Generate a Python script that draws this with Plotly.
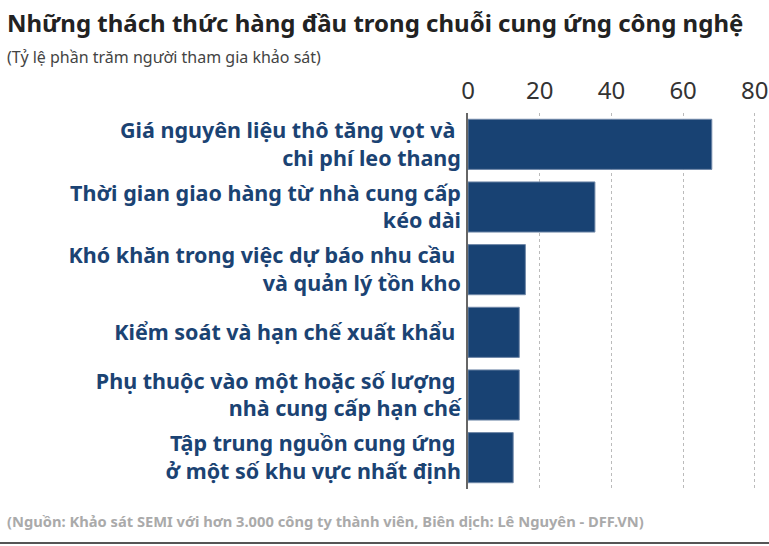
import plotly.graph_objects as go

categories = [
    "Giá nguyên liệu thô tăng vọt và <br>chi phí leo thang",
    "Thời gian giao hàng từ nhà cung cấp<br>kéo dài",
    "Khó khăn trong việc dự báo nhu cầu <br>và quản lý tồn kho",
    "Kiểm soát và hạn chế xuất khẩu ",
    "Phụ thuộc vào một hoặc số lượng <br>nhà cung cấp hạn chế",
    "Tập trung nguồn cung ứng <br>ở một số khu vực nhất định",
]
values = [68, 35.4, 16, 14.3, 14.3, 12.6]
x_ticks = [0, 20, 40, 60, 80]

title = "Những thách thức hàng đầu trong chuỗi cung ứng công nghệ"
subtitle = "(Tỷ lệ phần trăm người tham gia khảo sát)"
footer = "(Nguồn: Khảo sát SEMI với hơn 3.000 công ty thành viên, Biên dịch: Lê Nguyên - DFF.VN)"

W, H = 769, 546
L, R, T, B = 468, 7, 113, 57
pw, ph = W - L - R, H - T - B

def px(x):
    return (x - L) / pw

def py(y):
    return (H - B - y) / ph

FONT = "Noto Sans"
BAR = "#184273"

fig = go.Figure(go.Bar(
    x=values, y=categories, orientation="h",
    marker=dict(color=BAR, line=dict(color="#7088a8", width=1)),
    width=0.8, hoverinfo="skip",
))

fig.update_layout(
    width=W, height=H,
    margin=dict(l=L, r=R, t=T, b=B, autoexpand=False),
    paper_bgcolor="white", plot_bgcolor="white",
    showlegend=False,
    font=dict(family=FONT),
    xaxis=dict(
        side="top", range=[0, 82], tickvals=x_ticks,
        showgrid=True, gridcolor="#bbbbbb", griddash="dot", gridwidth=1,
        zeroline=False, showline=False, ticks="",
        ticklabelstandoff=8, automargin=False,
        tickfont=dict(family=FONT, size=24, color="#333333"),
        fixedrange=True,
    ),
    yaxis=dict(
        categoryorder="array", categoryarray=categories,
        autorange="reversed",
        showgrid=False, zeroline=False,
        showline=True, linecolor="#666666", linewidth=1.5,
        ticks="", ticklabelstandoff=1, automargin=False,
        tickfont=dict(family=FONT, size=21.5, color="#1b4373", weight="bold"),
        fixedrange=True,
    ),
    annotations=[
        dict(text=f"<b>{title}</b>", xref="paper", yref="paper",
             x=px(5), y=py(22), xanchor="left", yanchor="middle",
             showarrow=False, font=dict(size=24, color="#222222")),
        dict(text=subtitle, xref="paper", yref="paper",
             x=px(5), y=py(57), xanchor="left", yanchor="middle",
             showarrow=False, font=dict(size=16, color="#444444")),
        dict(text=f"<b>{footer}</b>", xref="paper", yref="paper",
             x=px(5), y=py(521), xanchor="left", yanchor="middle",
             showarrow=False, font=dict(size=14.7, color="#aaaaaa")),
    ],
    shapes=[
        dict(type="line", xref="paper", yref="paper",
             x0=px(0), x1=px(W), y0=py(543), y1=py(543),
             line=dict(color="#555555", width=2)),
    ],
)

fig.write_html("out.html", config={"displayModeBar": False},
               post_script="document.body.style.margin='0';")
